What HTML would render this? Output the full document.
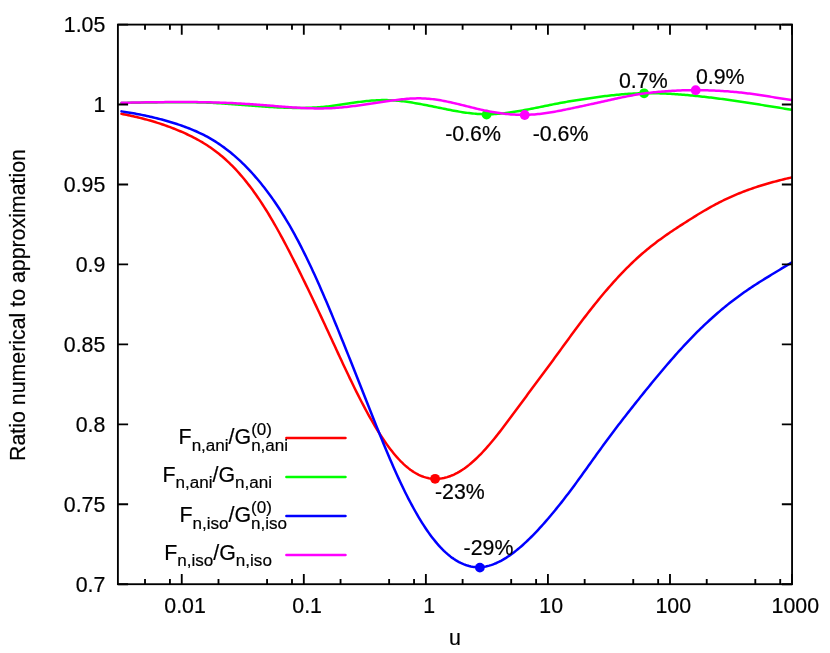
<!DOCTYPE html>
<html><head><meta charset="utf-8"><title>plot</title>
<style>html,body{margin:0;padding:0;background:#fff;}svg{display:block;will-change:transform;}text{font-family:"Liberation Sans",sans-serif;fill:#000;stroke:#000;stroke-width:0.20px;}</style></head><body>
<svg width="830" height="653" viewBox="0 0 830 653">
<rect x="0" y="0" width="830" height="653" fill="#ffffff"/>
<g fill="none" stroke="#ff0000" stroke-width="2.50" stroke-linejoin="round" stroke-linecap="round">
<path d="M121.50,113.83 L123.18,114.16 L124.86,114.50 L126.54,114.84 L128.22,115.19 L129.90,115.55 L131.58,115.92 L133.25,116.30 L134.93,116.68 L136.61,117.07 L138.29,117.47 L139.97,117.88 L141.65,118.31 L143.33,118.74 L145.01,119.18 L146.69,119.63 L148.37,120.09 L150.05,120.57 L151.73,121.05 L153.40,121.55 L155.08,122.06 L156.76,122.58 L158.44,123.11 L160.12,123.66 L161.80,124.21 L163.48,124.78 L165.16,125.37 L166.84,125.96 L168.52,126.58 L170.20,127.20 L171.88,127.84 L173.56,128.49 L175.23,129.15 L176.91,129.83 L178.59,130.53 L180.27,131.24 L181.95,131.97 L183.63,132.71 L185.31,133.47 L186.99,134.25 L188.67,135.05 L190.35,135.86 L192.03,136.70 L193.71,137.56 L195.38,138.44 L197.06,139.34 L198.74,140.27 L200.42,141.22 L202.10,142.20 L203.78,143.21 L205.46,144.25 L207.14,145.32 L208.82,146.43 L210.50,147.56 L212.18,148.73 L213.86,149.94 L215.54,151.19 L217.21,152.48 L218.89,153.81 L220.57,155.17 L222.25,156.58 L223.93,158.03 L225.61,159.53 L227.29,161.07 L228.97,162.65 L230.65,164.29 L232.33,165.96 L234.01,167.69 L235.69,169.46 L237.36,171.27 L239.04,173.14 L240.72,175.06 L242.40,177.02 L244.08,179.03 L245.76,181.09 L247.44,183.21 L249.12,185.37 L250.80,187.58 L252.48,189.84 L254.16,192.15 L255.84,194.51 L257.52,196.93 L259.19,199.39 L260.87,201.90 L262.55,204.47 L264.23,207.08 L265.91,209.75 L267.59,212.46 L269.27,215.23 L270.95,218.04 L272.63,220.90 L274.31,223.80 L275.99,226.75 L277.67,229.74 L279.34,232.77 L281.02,235.84 L282.70,238.94 L284.38,242.08 L286.06,245.26 L287.74,248.46 L289.42,251.70 L291.10,254.96 L292.78,258.25 L294.46,261.57 L296.14,264.91 L297.82,268.27 L299.49,271.65 L301.17,275.05 L302.85,278.47 L304.53,281.91 L306.21,285.36 L307.89,288.83 L309.57,292.31 L311.25,295.81 L312.93,299.32 L314.61,302.85 L316.29,306.39 L317.97,309.95 L319.65,313.52 L321.32,317.10 L323.00,320.69 L324.68,324.30 L326.36,327.92 L328.04,331.54 L329.72,335.18 L331.40,338.82 L333.08,342.45 L334.76,346.09 L336.44,349.73 L338.12,353.35 L339.80,356.97 L341.47,360.58 L343.15,364.17 L344.83,367.74 L346.51,371.30 L348.19,374.83 L349.87,378.34 L351.55,381.82 L353.23,385.27 L354.91,388.69 L356.59,392.07 L358.27,395.41 L359.95,398.71 L361.63,401.97 L363.30,405.19 L364.98,408.35 L366.66,411.47 L368.34,414.53 L370.02,417.54 L371.70,420.50 L373.38,423.40 L375.06,426.24 L376.74,429.02 L378.42,431.74 L380.10,434.40 L381.78,436.99 L383.45,439.51 L385.13,441.97 L386.81,444.36 L388.49,446.67 L390.17,448.92 L391.85,451.08 L393.53,453.18 L395.21,455.19 L396.89,457.13 L398.57,458.98 L400.25,460.76 L401.93,462.45 L403.61,464.06 L405.28,465.59 L406.96,467.03 L408.64,468.38 L410.32,469.66 L412.00,470.85 L413.68,471.96 L415.36,472.98 L417.04,473.92 L418.72,474.77 L420.40,475.54 L422.08,476.23 L423.76,476.83 L425.43,477.35 L427.11,477.80 L428.79,478.16 L430.47,478.44 L432.15,478.65 L433.83,478.77 L435.51,478.82 L437.19,478.80 L438.87,478.70 L440.55,478.52 L442.23,478.27 L443.91,477.95 L445.59,477.56 L447.26,477.09 L448.94,476.55 L450.62,475.95 L452.30,475.27 L453.98,474.53 L455.66,473.71 L457.34,472.83 L459.02,471.89 L460.70,470.88 L462.38,469.80 L464.06,468.66 L465.74,467.46 L467.41,466.20 L469.09,464.88 L470.77,463.49 L472.45,462.05 L474.13,460.55 L475.81,459.00 L477.49,457.39 L479.17,455.73 L480.85,454.02 L482.53,452.26 L484.21,450.45 L485.89,448.60 L487.57,446.70 L489.24,444.77 L490.92,442.79 L492.60,440.77 L494.28,438.72 L495.96,436.64 L497.64,434.52 L499.32,432.38 L501.00,430.21 L502.68,428.02 L504.36,425.82 L506.04,423.59 L507.72,421.35 L509.39,419.10 L511.07,416.84 L512.75,414.57 L514.43,412.29 L516.11,410.02 L517.79,407.74 L519.47,405.46 L521.15,403.19 L522.83,400.92 L524.51,398.64 L526.19,396.38 L527.87,394.11 L529.55,391.85 L531.22,389.60 L532.90,387.35 L534.58,385.09 L536.26,382.84 L537.94,380.59 L539.62,378.34 L541.30,376.08 L542.98,373.82 L544.66,371.55 L546.34,369.28 L548.02,367.00 L549.70,364.72 L551.37,362.43 L553.05,360.14 L554.73,357.84 L556.41,355.54 L558.09,353.24 L559.77,350.93 L561.45,348.63 L563.13,346.32 L564.81,344.02 L566.49,341.71 L568.17,339.41 L569.85,337.12 L571.53,334.83 L573.20,332.55 L574.88,330.28 L576.56,328.01 L578.24,325.76 L579.92,323.52 L581.60,321.29 L583.28,319.07 L584.96,316.87 L586.64,314.69 L588.32,312.52 L590.00,310.36 L591.68,308.23 L593.35,306.11 L595.03,304.01 L596.71,301.92 L598.39,299.86 L600.07,297.82 L601.75,295.79 L603.43,293.79 L605.11,291.80 L606.79,289.84 L608.47,287.89 L610.15,285.97 L611.83,284.06 L613.51,282.18 L615.18,280.32 L616.86,278.49 L618.54,276.67 L620.22,274.88 L621.90,273.11 L623.58,271.36 L625.26,269.64 L626.94,267.94 L628.62,266.27 L630.30,264.62 L631.98,263.00 L633.66,261.40 L635.33,259.83 L637.01,258.29 L638.69,256.77 L640.37,255.27 L642.05,253.80 L643.73,252.36 L645.41,250.93 L647.09,249.54 L648.77,248.16 L650.45,246.81 L652.13,245.48 L653.81,244.17 L655.48,242.89 L657.16,241.62 L658.84,240.37 L660.52,239.14 L662.20,237.92 L663.88,236.73 L665.56,235.54 L667.24,234.38 L668.92,233.22 L670.60,232.08 L672.28,230.95 L673.96,229.82 L675.64,228.71 L677.31,227.61 L678.99,226.51 L680.67,225.42 L682.35,224.34 L684.03,223.26 L685.71,222.18 L687.39,221.12 L689.07,220.05 L690.75,218.99 L692.43,217.94 L694.11,216.89 L695.79,215.85 L697.46,214.81 L699.14,213.79 L700.82,212.78 L702.50,211.77 L704.18,210.78 L705.86,209.80 L707.54,208.83 L709.22,207.87 L710.90,206.93 L712.58,206.00 L714.26,205.09 L715.94,204.19 L717.62,203.31 L719.29,202.44 L720.97,201.59 L722.65,200.75 L724.33,199.93 L726.01,199.13 L727.69,198.34 L729.37,197.56 L731.05,196.80 L732.73,196.06 L734.41,195.33 L736.09,194.62 L737.77,193.92 L739.44,193.23 L741.12,192.56 L742.80,191.91 L744.48,191.26 L746.16,190.63 L747.84,190.02 L749.52,189.41 L751.20,188.82 L752.88,188.24 L754.56,187.67 L756.24,187.11 L757.92,186.56 L759.60,186.02 L761.27,185.49 L762.95,184.98 L764.63,184.47 L766.31,183.97 L767.99,183.48 L769.67,183.00 L771.35,182.53 L773.03,182.07 L774.71,181.62 L776.39,181.17 L778.07,180.73 L779.75,180.30 L781.42,179.88 L783.10,179.46 L784.78,179.05 L786.46,178.65 L788.14,178.25 L789.82,177.85 L791.50,177.46"/>
<path d="M286.40,438.05 H345.50"/>
</g>
<circle cx="435.10" cy="478.80" r="4.90" fill="#ff0000"/>
<g fill="none" stroke="#00ff00" stroke-width="2.50" stroke-linejoin="round" stroke-linecap="round">
<path d="M121.50,103.01 L123.18,102.97 L124.86,102.93 L126.54,102.90 L128.22,102.86 L129.90,102.83 L131.58,102.79 L133.25,102.76 L134.93,102.73 L136.61,102.70 L138.29,102.67 L139.97,102.64 L141.65,102.61 L143.33,102.59 L145.01,102.56 L146.69,102.53 L148.37,102.51 L150.05,102.48 L151.73,102.46 L153.40,102.43 L155.08,102.41 L156.76,102.39 L158.44,102.37 L160.12,102.34 L161.80,102.32 L163.48,102.30 L165.16,102.29 L166.84,102.27 L168.52,102.26 L170.20,102.24 L171.88,102.23 L173.56,102.22 L175.23,102.22 L176.91,102.21 L178.59,102.21 L180.27,102.21 L181.95,102.21 L183.63,102.22 L185.31,102.23 L186.99,102.24 L188.67,102.25 L190.35,102.27 L192.03,102.29 L193.71,102.32 L195.38,102.34 L197.06,102.38 L198.74,102.41 L200.42,102.45 L202.10,102.50 L203.78,102.55 L205.46,102.60 L207.14,102.66 L208.82,102.73 L210.50,102.80 L212.18,102.87 L213.86,102.96 L215.54,103.04 L217.21,103.14 L218.89,103.23 L220.57,103.34 L222.25,103.44 L223.93,103.55 L225.61,103.66 L227.29,103.78 L228.97,103.90 L230.65,104.02 L232.33,104.15 L234.01,104.28 L235.69,104.40 L237.36,104.53 L239.04,104.67 L240.72,104.80 L242.40,104.93 L244.08,105.06 L245.76,105.20 L247.44,105.33 L249.12,105.46 L250.80,105.59 L252.48,105.73 L254.16,105.86 L255.84,105.98 L257.52,106.11 L259.19,106.23 L260.87,106.36 L262.55,106.48 L264.23,106.59 L265.91,106.71 L267.59,106.82 L269.27,106.92 L270.95,107.03 L272.63,107.12 L274.31,107.22 L275.99,107.31 L277.67,107.39 L279.34,107.47 L281.02,107.55 L282.70,107.62 L284.38,107.68 L286.06,107.74 L287.74,107.79 L289.42,107.83 L291.10,107.87 L292.78,107.90 L294.46,107.92 L296.14,107.93 L297.82,107.94 L299.49,107.94 L301.17,107.93 L302.85,107.91 L304.53,107.88 L306.21,107.84 L307.89,107.79 L309.57,107.73 L311.25,107.67 L312.93,107.59 L314.61,107.50 L316.29,107.40 L317.97,107.29 L319.65,107.16 L321.32,107.03 L323.00,106.89 L324.68,106.73 L326.36,106.57 L328.04,106.39 L329.72,106.20 L331.40,106.00 L333.08,105.79 L334.76,105.57 L336.44,105.34 L338.12,105.10 L339.80,104.85 L341.47,104.60 L343.15,104.35 L344.83,104.09 L346.51,103.83 L348.19,103.58 L349.87,103.32 L351.55,103.07 L353.23,102.82 L354.91,102.57 L356.59,102.33 L358.27,102.10 L359.95,101.88 L361.63,101.67 L363.30,101.46 L364.98,101.27 L366.66,101.08 L368.34,100.91 L370.02,100.76 L371.70,100.62 L373.38,100.49 L375.06,100.38 L376.74,100.28 L378.42,100.20 L380.10,100.14 L381.78,100.10 L383.45,100.08 L385.13,100.08 L386.81,100.10 L388.49,100.14 L390.17,100.20 L391.85,100.29 L393.53,100.39 L395.21,100.51 L396.89,100.65 L398.57,100.81 L400.25,100.99 L401.93,101.18 L403.61,101.38 L405.28,101.60 L406.96,101.83 L408.64,102.08 L410.32,102.34 L412.00,102.60 L413.68,102.88 L415.36,103.17 L417.04,103.46 L418.72,103.76 L420.40,104.07 L422.08,104.38 L423.76,104.70 L425.43,105.02 L427.11,105.35 L428.79,105.68 L430.47,106.02 L432.15,106.35 L433.83,106.69 L435.51,107.03 L437.19,107.37 L438.87,107.71 L440.55,108.05 L442.23,108.39 L443.91,108.73 L445.59,109.07 L447.26,109.41 L448.94,109.74 L450.62,110.07 L452.30,110.40 L453.98,110.71 L455.66,111.02 L457.34,111.32 L459.02,111.61 L460.70,111.89 L462.38,112.16 L464.06,112.41 L465.74,112.65 L467.41,112.88 L469.09,113.09 L470.77,113.29 L472.45,113.47 L474.13,113.63 L475.81,113.78 L477.49,113.91 L479.17,114.02 L480.85,114.11 L482.53,114.17 L484.21,114.22 L485.89,114.25 L487.57,114.25 L489.24,114.23 L490.92,114.19 L492.60,114.13 L494.28,114.05 L495.96,113.95 L497.64,113.83 L499.32,113.70 L501.00,113.54 L502.68,113.38 L504.36,113.19 L506.04,112.99 L507.72,112.78 L509.39,112.56 L511.07,112.32 L512.75,112.07 L514.43,111.81 L516.11,111.54 L517.79,111.26 L519.47,110.98 L521.15,110.68 L522.83,110.38 L524.51,110.08 L526.19,109.77 L527.87,109.45 L529.55,109.13 L531.22,108.80 L532.90,108.47 L534.58,108.14 L536.26,107.81 L537.94,107.47 L539.62,107.13 L541.30,106.79 L542.98,106.44 L544.66,106.10 L546.34,105.76 L548.02,105.41 L549.70,105.07 L551.37,104.73 L553.05,104.39 L554.73,104.06 L556.41,103.73 L558.09,103.40 L559.77,103.08 L561.45,102.76 L563.13,102.46 L564.81,102.15 L566.49,101.86 L568.17,101.57 L569.85,101.29 L571.53,101.01 L573.20,100.74 L574.88,100.47 L576.56,100.20 L578.24,99.94 L579.92,99.68 L581.60,99.42 L583.28,99.16 L584.96,98.91 L586.64,98.65 L588.32,98.40 L590.00,98.16 L591.68,97.91 L593.35,97.67 L595.03,97.44 L596.71,97.21 L598.39,96.98 L600.07,96.75 L601.75,96.53 L603.43,96.32 L605.11,96.11 L606.79,95.91 L608.47,95.71 L610.15,95.51 L611.83,95.33 L613.51,95.15 L615.18,94.97 L616.86,94.81 L618.54,94.65 L620.22,94.50 L621.90,94.35 L623.58,94.22 L625.26,94.09 L626.94,93.97 L628.62,93.86 L630.30,93.76 L631.98,93.66 L633.66,93.58 L635.33,93.50 L637.01,93.43 L638.69,93.37 L640.37,93.32 L642.05,93.27 L643.73,93.24 L645.41,93.21 L647.09,93.20 L648.77,93.19 L650.45,93.19 L652.13,93.20 L653.81,93.22 L655.48,93.25 L657.16,93.28 L658.84,93.32 L660.52,93.38 L662.20,93.43 L663.88,93.50 L665.56,93.57 L667.24,93.66 L668.92,93.74 L670.60,93.84 L672.28,93.94 L673.96,94.05 L675.64,94.16 L677.31,94.28 L678.99,94.41 L680.67,94.54 L682.35,94.68 L684.03,94.82 L685.71,94.96 L687.39,95.11 L689.07,95.26 L690.75,95.42 L692.43,95.59 L694.11,95.75 L695.79,95.92 L697.46,96.10 L699.14,96.27 L700.82,96.46 L702.50,96.64 L704.18,96.83 L705.86,97.02 L707.54,97.21 L709.22,97.41 L710.90,97.61 L712.58,97.82 L714.26,98.02 L715.94,98.23 L717.62,98.45 L719.29,98.66 L720.97,98.88 L722.65,99.10 L724.33,99.32 L726.01,99.55 L727.69,99.78 L729.37,100.01 L731.05,100.25 L732.73,100.49 L734.41,100.72 L736.09,100.97 L737.77,101.21 L739.44,101.46 L741.12,101.71 L742.80,101.96 L744.48,102.22 L746.16,102.47 L747.84,102.73 L749.52,102.99 L751.20,103.26 L752.88,103.52 L754.56,103.79 L756.24,104.05 L757.92,104.32 L759.60,104.59 L761.27,104.86 L762.95,105.13 L764.63,105.41 L766.31,105.68 L767.99,105.95 L769.67,106.22 L771.35,106.49 L773.03,106.76 L774.71,107.03 L776.39,107.30 L778.07,107.57 L779.75,107.84 L781.42,108.11 L783.10,108.38 L784.78,108.65 L786.46,108.91 L788.14,109.18 L789.82,109.45 L791.50,109.71"/>
<path d="M286.40,477.05 H345.50"/>
</g>
<circle cx="486.60" cy="114.60" r="4.90" fill="#00ff00"/>
<circle cx="644.10" cy="93.30" r="4.90" fill="#00ff00"/>
<g fill="none" stroke="#0000ff" stroke-width="2.50" stroke-linejoin="round" stroke-linecap="round">
<path d="M121.50,111.37 L123.18,111.63 L124.86,111.89 L126.54,112.16 L128.22,112.44 L129.90,112.72 L131.58,113.01 L133.25,113.30 L134.93,113.60 L136.61,113.91 L138.29,114.23 L139.97,114.55 L141.65,114.89 L143.33,115.23 L145.01,115.58 L146.69,115.93 L148.37,116.30 L150.05,116.67 L151.73,117.06 L153.40,117.45 L155.08,117.85 L156.76,118.27 L158.44,118.69 L160.12,119.12 L161.80,119.56 L163.48,120.02 L165.16,120.48 L166.84,120.95 L168.52,121.44 L170.20,121.94 L171.88,122.44 L173.56,122.96 L175.23,123.50 L176.91,124.04 L178.59,124.60 L180.27,125.17 L181.95,125.76 L183.63,126.36 L185.31,126.97 L186.99,127.60 L188.67,128.25 L190.35,128.91 L192.03,129.60 L193.71,130.30 L195.38,131.02 L197.06,131.76 L198.74,132.52 L200.42,133.31 L202.10,134.12 L203.78,134.96 L205.46,135.83 L207.14,136.72 L208.82,137.64 L210.50,138.60 L212.18,139.58 L213.86,140.60 L215.54,141.64 L217.21,142.72 L218.89,143.84 L220.57,144.98 L222.25,146.16 L223.93,147.38 L225.61,148.63 L227.29,149.91 L228.97,151.23 L230.65,152.58 L232.33,153.97 L234.01,155.39 L235.69,156.85 L237.36,158.35 L239.04,159.88 L240.72,161.45 L242.40,163.05 L244.08,164.70 L245.76,166.38 L247.44,168.10 L249.12,169.86 L250.80,171.66 L252.48,173.50 L254.16,175.38 L255.84,177.31 L257.52,179.27 L259.19,181.27 L260.87,183.32 L262.55,185.41 L264.23,187.54 L265.91,189.72 L267.59,191.94 L269.27,194.21 L270.95,196.52 L272.63,198.88 L274.31,201.29 L275.99,203.75 L277.67,206.25 L279.34,208.80 L281.02,211.41 L282.70,214.06 L284.38,216.78 L286.06,219.54 L287.74,222.36 L289.42,225.23 L291.10,228.16 L292.78,231.15 L294.46,234.19 L296.14,237.29 L297.82,240.44 L299.49,243.65 L301.17,246.91 L302.85,250.22 L304.53,253.58 L306.21,257.00 L307.89,260.46 L309.57,263.98 L311.25,267.54 L312.93,271.16 L314.61,274.82 L316.29,278.52 L317.97,282.27 L319.65,286.06 L321.32,289.89 L323.00,293.76 L324.68,297.66 L326.36,301.59 L328.04,305.56 L329.72,309.55 L331.40,313.57 L333.08,317.62 L334.76,321.69 L336.44,325.79 L338.12,329.90 L339.80,334.03 L341.47,338.17 L343.15,342.33 L344.83,346.50 L346.51,350.68 L348.19,354.88 L349.87,359.08 L351.55,363.29 L353.23,367.52 L354.91,371.74 L356.59,375.98 L358.27,380.22 L359.95,384.46 L361.63,388.71 L363.30,392.96 L364.98,397.21 L366.66,401.46 L368.34,405.71 L370.02,409.95 L371.70,414.19 L373.38,418.43 L375.06,422.64 L376.74,426.85 L378.42,431.03 L380.10,435.19 L381.78,439.33 L383.45,443.43 L385.13,447.50 L386.81,451.52 L388.49,455.51 L390.17,459.45 L391.85,463.34 L393.53,467.17 L395.21,470.96 L396.89,474.69 L398.57,478.36 L400.25,481.97 L401.93,485.52 L403.61,489.01 L405.28,492.43 L406.96,495.78 L408.64,499.07 L410.32,502.28 L412.00,505.43 L413.68,508.51 L415.36,511.51 L417.04,514.44 L418.72,517.30 L420.40,520.09 L422.08,522.79 L423.76,525.42 L425.43,527.98 L427.11,530.45 L428.79,532.85 L430.47,535.17 L432.15,537.41 L433.83,539.56 L435.51,541.64 L437.19,543.64 L438.87,545.55 L440.55,547.38 L442.23,549.13 L443.91,550.80 L445.59,552.38 L447.26,553.88 L448.94,555.30 L450.62,556.63 L452.30,557.89 L453.98,559.06 L455.66,560.15 L457.34,561.16 L459.02,562.10 L460.70,562.95 L462.38,563.72 L464.06,564.42 L465.74,565.03 L467.41,565.57 L469.09,566.03 L470.77,566.42 L472.45,566.72 L474.13,566.95 L475.81,567.10 L477.49,567.18 L479.17,567.18 L480.85,567.11 L482.53,566.96 L484.21,566.73 L485.89,566.44 L487.57,566.07 L489.24,565.64 L490.92,565.13 L492.60,564.57 L494.28,563.93 L495.96,563.24 L497.64,562.48 L499.32,561.67 L501.00,560.80 L502.68,559.87 L504.36,558.89 L506.04,557.86 L507.72,556.77 L509.39,555.64 L511.07,554.46 L512.75,553.23 L514.43,551.96 L516.11,550.64 L517.79,549.28 L519.47,547.87 L521.15,546.43 L522.83,544.95 L524.51,543.43 L526.19,541.87 L527.87,540.28 L529.55,538.65 L531.22,536.99 L532.90,535.30 L534.58,533.57 L536.26,531.82 L537.94,530.03 L539.62,528.22 L541.30,526.37 L542.98,524.51 L544.66,522.61 L546.34,520.69 L548.02,518.74 L549.70,516.77 L551.37,514.78 L553.05,512.76 L554.73,510.72 L556.41,508.66 L558.09,506.58 L559.77,504.47 L561.45,502.35 L563.13,500.20 L564.81,498.04 L566.49,495.85 L568.17,493.65 L569.85,491.43 L571.53,489.19 L573.20,486.93 L574.88,484.66 L576.56,482.37 L578.24,480.07 L579.92,477.76 L581.60,475.43 L583.28,473.10 L584.96,470.76 L586.64,468.42 L588.32,466.08 L590.00,463.73 L591.68,461.38 L593.35,459.03 L595.03,456.69 L596.71,454.35 L598.39,452.02 L600.07,449.70 L601.75,447.38 L603.43,445.08 L605.11,442.79 L606.79,440.51 L608.47,438.24 L610.15,435.98 L611.83,433.74 L613.51,431.50 L615.18,429.28 L616.86,427.06 L618.54,424.86 L620.22,422.67 L621.90,420.49 L623.58,418.32 L625.26,416.16 L626.94,414.01 L628.62,411.87 L630.30,409.73 L631.98,407.61 L633.66,405.49 L635.33,403.38 L637.01,401.27 L638.69,399.17 L640.37,397.08 L642.05,394.99 L643.73,392.91 L645.41,390.83 L647.09,388.76 L648.77,386.69 L650.45,384.63 L652.13,382.58 L653.81,380.54 L655.48,378.50 L657.16,376.48 L658.84,374.46 L660.52,372.45 L662.20,370.46 L663.88,368.47 L665.56,366.49 L667.24,364.53 L668.92,362.58 L670.60,360.64 L672.28,358.72 L673.96,356.81 L675.64,354.91 L677.31,353.03 L678.99,351.16 L680.67,349.31 L682.35,347.48 L684.03,345.66 L685.71,343.86 L687.39,342.07 L689.07,340.30 L690.75,338.55 L692.43,336.82 L694.11,335.11 L695.79,333.41 L697.46,331.74 L699.14,330.08 L700.82,328.44 L702.50,326.82 L704.18,325.21 L705.86,323.63 L707.54,322.06 L709.22,320.51 L710.90,318.98 L712.58,317.47 L714.26,315.97 L715.94,314.49 L717.62,313.03 L719.29,311.59 L720.97,310.17 L722.65,308.76 L724.33,307.37 L726.01,306.00 L727.69,304.65 L729.37,303.31 L731.05,302.00 L732.73,300.70 L734.41,299.41 L736.09,298.15 L737.77,296.90 L739.44,295.67 L741.12,294.46 L742.80,293.26 L744.48,292.08 L746.16,290.91 L747.84,289.75 L749.52,288.61 L751.20,287.49 L752.88,286.38 L754.56,285.28 L756.24,284.19 L757.92,283.11 L759.60,282.05 L761.27,280.99 L762.95,279.94 L764.63,278.90 L766.31,277.87 L767.99,276.84 L769.67,275.81 L771.35,274.79 L773.03,273.77 L774.71,272.75 L776.39,271.73 L778.07,270.72 L779.75,269.70 L781.42,268.69 L783.10,267.67 L784.78,266.66 L786.46,265.65 L788.14,264.64 L789.82,263.63 L791.50,262.62"/>
<path d="M286.40,516.05 H345.50"/>
</g>
<circle cx="479.90" cy="567.60" r="4.90" fill="#0000ff"/>
<g fill="none" stroke="#ff00ff" stroke-width="2.50" stroke-linejoin="round" stroke-linecap="round">
<path d="M121.50,102.81 L123.18,102.77 L124.86,102.73 L126.54,102.69 L128.22,102.66 L129.90,102.63 L131.58,102.59 L133.25,102.56 L134.93,102.53 L136.61,102.50 L138.29,102.47 L139.97,102.45 L141.65,102.42 L143.33,102.39 L145.01,102.37 L146.69,102.34 L148.37,102.32 L150.05,102.29 L151.73,102.27 L153.40,102.25 L155.08,102.23 L156.76,102.20 L158.44,102.18 L160.12,102.16 L161.80,102.15 L163.48,102.13 L165.16,102.11 L166.84,102.10 L168.52,102.08 L170.20,102.07 L171.88,102.06 L173.56,102.05 L175.23,102.04 L176.91,102.03 L178.59,102.03 L180.27,102.03 L181.95,102.02 L183.63,102.02 L185.31,102.03 L186.99,102.03 L188.67,102.04 L190.35,102.05 L192.03,102.06 L193.71,102.07 L195.38,102.09 L197.06,102.11 L198.74,102.13 L200.42,102.15 L202.10,102.17 L203.78,102.20 L205.46,102.23 L207.14,102.27 L208.82,102.30 L210.50,102.34 L212.18,102.38 L213.86,102.43 L215.54,102.47 L217.21,102.52 L218.89,102.57 L220.57,102.63 L222.25,102.69 L223.93,102.75 L225.61,102.82 L227.29,102.89 L228.97,102.96 L230.65,103.03 L232.33,103.11 L234.01,103.20 L235.69,103.29 L237.36,103.38 L239.04,103.47 L240.72,103.57 L242.40,103.67 L244.08,103.78 L245.76,103.88 L247.44,103.99 L249.12,104.11 L250.80,104.22 L252.48,104.34 L254.16,104.46 L255.84,104.58 L257.52,104.70 L259.19,104.83 L260.87,104.95 L262.55,105.08 L264.23,105.21 L265.91,105.34 L267.59,105.47 L269.27,105.60 L270.95,105.73 L272.63,105.86 L274.31,106.00 L275.99,106.13 L277.67,106.26 L279.34,106.39 L281.02,106.52 L282.70,106.65 L284.38,106.78 L286.06,106.90 L287.74,107.03 L289.42,107.15 L291.10,107.27 L292.78,107.38 L294.46,107.49 L296.14,107.60 L297.82,107.70 L299.49,107.80 L301.17,107.89 L302.85,107.98 L304.53,108.06 L306.21,108.13 L307.89,108.20 L309.57,108.25 L311.25,108.31 L312.93,108.35 L314.61,108.38 L316.29,108.41 L317.97,108.42 L319.65,108.42 L321.32,108.42 L323.00,108.40 L324.68,108.37 L326.36,108.33 L328.04,108.28 L329.72,108.22 L331.40,108.14 L333.08,108.05 L334.76,107.94 L336.44,107.83 L338.12,107.70 L339.80,107.56 L341.47,107.41 L343.15,107.25 L344.83,107.08 L346.51,106.90 L348.19,106.71 L349.87,106.52 L351.55,106.31 L353.23,106.11 L354.91,105.89 L356.59,105.67 L358.27,105.45 L359.95,105.22 L361.63,104.99 L363.30,104.75 L364.98,104.51 L366.66,104.27 L368.34,104.02 L370.02,103.77 L371.70,103.52 L373.38,103.27 L375.06,103.02 L376.74,102.76 L378.42,102.51 L380.10,102.26 L381.78,102.01 L383.45,101.76 L385.13,101.51 L386.81,101.27 L388.49,101.03 L390.17,100.80 L391.85,100.57 L393.53,100.34 L395.21,100.12 L396.89,99.91 L398.57,99.71 L400.25,99.51 L401.93,99.33 L403.61,99.16 L405.28,99.00 L406.96,98.86 L408.64,98.73 L410.32,98.62 L412.00,98.52 L413.68,98.45 L415.36,98.39 L417.04,98.36 L418.72,98.35 L420.40,98.36 L422.08,98.39 L423.76,98.45 L425.43,98.53 L427.11,98.64 L428.79,98.78 L430.47,98.94 L432.15,99.12 L433.83,99.32 L435.51,99.55 L437.19,99.79 L438.87,100.05 L440.55,100.34 L442.23,100.63 L443.91,100.95 L445.59,101.28 L447.26,101.62 L448.94,101.98 L450.62,102.34 L452.30,102.72 L453.98,103.11 L455.66,103.50 L457.34,103.91 L459.02,104.31 L460.70,104.72 L462.38,105.14 L464.06,105.56 L465.74,105.98 L467.41,106.40 L469.09,106.82 L470.77,107.23 L472.45,107.65 L474.13,108.06 L475.81,108.46 L477.49,108.86 L479.17,109.24 L480.85,109.63 L482.53,110.00 L484.21,110.36 L485.89,110.70 L487.57,111.04 L489.24,111.37 L490.92,111.68 L492.60,111.98 L494.28,112.27 L495.96,112.55 L497.64,112.81 L499.32,113.06 L501.00,113.29 L502.68,113.51 L504.36,113.72 L506.04,113.90 L507.72,114.08 L509.39,114.24 L511.07,114.38 L512.75,114.50 L514.43,114.61 L516.11,114.69 L517.79,114.76 L519.47,114.81 L521.15,114.85 L522.83,114.86 L524.51,114.85 L526.19,114.82 L527.87,114.77 L529.55,114.71 L531.22,114.62 L532.90,114.51 L534.58,114.39 L536.26,114.25 L537.94,114.09 L539.62,113.91 L541.30,113.72 L542.98,113.51 L544.66,113.28 L546.34,113.04 L548.02,112.79 L549.70,112.53 L551.37,112.25 L553.05,111.96 L554.73,111.67 L556.41,111.36 L558.09,111.05 L559.77,110.72 L561.45,110.40 L563.13,110.07 L564.81,109.73 L566.49,109.39 L568.17,109.05 L569.85,108.70 L571.53,108.35 L573.20,108.00 L574.88,107.65 L576.56,107.29 L578.24,106.93 L579.92,106.58 L581.60,106.22 L583.28,105.86 L584.96,105.49 L586.64,105.13 L588.32,104.77 L590.00,104.40 L591.68,104.03 L593.35,103.66 L595.03,103.29 L596.71,102.92 L598.39,102.55 L600.07,102.18 L601.75,101.80 L603.43,101.42 L605.11,101.04 L606.79,100.67 L608.47,100.29 L610.15,99.91 L611.83,99.54 L613.51,99.17 L615.18,98.80 L616.86,98.44 L618.54,98.08 L620.22,97.72 L621.90,97.38 L623.58,97.03 L625.26,96.70 L626.94,96.37 L628.62,96.05 L630.30,95.74 L631.98,95.44 L633.66,95.14 L635.33,94.85 L637.01,94.57 L638.69,94.30 L640.37,94.04 L642.05,93.79 L643.73,93.55 L645.41,93.32 L647.09,93.10 L648.77,92.89 L650.45,92.69 L652.13,92.50 L653.81,92.32 L655.48,92.15 L657.16,91.98 L658.84,91.82 L660.52,91.67 L662.20,91.53 L663.88,91.40 L665.56,91.27 L667.24,91.15 L668.92,91.03 L670.60,90.93 L672.28,90.83 L673.96,90.74 L675.64,90.65 L677.31,90.57 L678.99,90.50 L680.67,90.43 L682.35,90.37 L684.03,90.32 L685.71,90.28 L687.39,90.24 L689.07,90.21 L690.75,90.18 L692.43,90.17 L694.11,90.16 L695.79,90.15 L697.46,90.16 L699.14,90.17 L700.82,90.19 L702.50,90.22 L704.18,90.25 L705.86,90.29 L707.54,90.34 L709.22,90.39 L710.90,90.45 L712.58,90.51 L714.26,90.59 L715.94,90.66 L717.62,90.74 L719.29,90.83 L720.97,90.92 L722.65,91.02 L724.33,91.13 L726.01,91.24 L727.69,91.36 L729.37,91.49 L731.05,91.63 L732.73,91.77 L734.41,91.92 L736.09,92.08 L737.77,92.24 L739.44,92.41 L741.12,92.59 L742.80,92.78 L744.48,92.98 L746.16,93.18 L747.84,93.39 L749.52,93.60 L751.20,93.82 L752.88,94.05 L754.56,94.29 L756.24,94.53 L757.92,94.77 L759.60,95.02 L761.27,95.28 L762.95,95.53 L764.63,95.79 L766.31,96.06 L767.99,96.32 L769.67,96.59 L771.35,96.86 L773.03,97.13 L774.71,97.40 L776.39,97.67 L778.07,97.94 L779.75,98.21 L781.42,98.48 L783.10,98.75 L784.78,99.02 L786.46,99.29 L788.14,99.56 L789.82,99.83 L791.50,100.10"/>
<path d="M286.40,555.05 H345.50"/>
</g>
<circle cx="524.70" cy="115.00" r="4.90" fill="#ff00ff"/>
<circle cx="695.70" cy="90.20" r="4.90" fill="#ff00ff"/>
<g fill="none" stroke="#000" stroke-width="1.85" stroke-linecap="butt">
<path d="M117.90,24.60 h10.20 M792.05,24.60 h-10.20 M117.90,104.54 h10.20 M792.05,104.54 h-10.20 M117.90,184.49 h10.20 M792.05,184.49 h-10.20 M117.90,264.43 h10.20 M792.05,264.43 h-10.20 M117.90,344.37 h10.20 M792.05,344.37 h-10.20 M117.90,424.31 h10.20 M792.05,424.31 h-10.20 M117.90,504.26 h10.20 M792.05,504.26 h-10.20 M117.90,584.20 h10.20 M792.05,584.20 h-10.20 M145.01,584.20 v-5.10 M145.01,24.60 v5.10 M169.92,584.20 v-5.10 M169.92,24.60 v5.10 M181.75,584.20 v-10.20 M181.75,24.60 v10.20 M218.49,584.20 v-5.10 M218.49,24.60 v5.10 M267.07,584.20 v-5.10 M267.07,24.60 v5.10 M291.98,584.20 v-5.10 M291.98,24.60 v5.10 M303.81,584.20 v-10.20 M303.81,24.60 v10.20 M340.55,584.20 v-5.10 M340.55,24.60 v5.10 M389.13,584.20 v-5.10 M389.13,24.60 v5.10 M414.04,584.20 v-5.10 M414.04,24.60 v5.10 M425.87,584.20 v-10.20 M425.87,24.60 v10.20 M462.61,584.20 v-5.10 M462.61,24.60 v5.10 M511.19,584.20 v-5.10 M511.19,24.60 v5.10 M536.10,584.20 v-5.10 M536.10,24.60 v5.10 M547.93,584.20 v-10.20 M547.93,24.60 v10.20 M584.67,584.20 v-5.10 M584.67,24.60 v5.10 M633.25,584.20 v-5.10 M633.25,24.60 v5.10 M658.16,584.20 v-5.10 M658.16,24.60 v5.10 M669.99,584.20 v-10.20 M669.99,24.60 v10.20 M706.73,584.20 v-5.10 M706.73,24.60 v5.10 M755.31,584.20 v-5.10 M755.31,24.60 v5.10 M780.22,584.20 v-5.10 M780.22,24.60 v5.10 M792.05,584.20 v-10.20 M792.05,24.60 v10.20"/>
<rect x="117.90" y="24.60" width="674.15" height="559.60" stroke-linejoin="miter"/>
</g>
<g font-size="21.33">
<text x="105.30" y="32.00" text-anchor="end">1.05</text>
<text x="105.30" y="111.94" text-anchor="end">1</text>
<text x="105.30" y="191.89" text-anchor="end">0.95</text>
<text x="105.30" y="271.83" text-anchor="end">0.9</text>
<text x="105.30" y="351.77" text-anchor="end">0.85</text>
<text x="105.30" y="431.71" text-anchor="end">0.8</text>
<text x="105.30" y="511.66" text-anchor="end">0.75</text>
<text x="105.30" y="591.60" text-anchor="end">0.7</text>
<text x="185.05" y="612.75" text-anchor="middle">0.01</text>
<text x="307.11" y="612.75" text-anchor="middle">0.1</text>
<text x="429.17" y="612.75" text-anchor="middle">1</text>
<text x="551.23" y="612.75" text-anchor="middle">10</text>
<text x="673.29" y="612.75" text-anchor="middle">100</text>
<text x="795.35" y="612.75" text-anchor="middle">1000</text>
<text x="454.90" y="644.90" text-anchor="middle">u</text>
<text transform="translate(24.80,305.00) rotate(-90)" text-anchor="middle">Ratio numerical to approximation</text>
<text x="435.00" y="498.80">-23%</text>
<text x="463.60" y="554.90">-29%</text>
<text x="445.20" y="140.70">-0.6%</text>
<text x="532.70" y="140.70">-0.6%</text>
<text x="619.00" y="87.50">0.7%</text>
<text x="695.90" y="84.40">0.9%</text>
<text x="178.60" y="444.40">F<tspan font-size="17.06" dy="6.30">n,ani</tspan><tspan dy="-6.30">/G</tspan></text>
<text x="251.15" y="435.00" font-size="17.06">(0)</text>
<text x="251.15" y="450.70" font-size="17.06">n,ani</text>
<text x="162.50" y="481.60">F<tspan font-size="17.06" dy="6.30">n,ani</tspan><tspan dy="-6.30">/G</tspan><tspan font-size="17.06" dy="6.30">n,ani</tspan></text>
<text x="179.50" y="522.40">F<tspan font-size="17.06" dy="6.30">n,iso</tspan><tspan dy="-6.30">/G</tspan></text>
<text x="251.10" y="513.00" font-size="17.06">(0)</text>
<text x="251.10" y="528.70" font-size="17.06">n,iso</text>
<text x="164.30" y="559.60">F<tspan font-size="17.06" dy="6.30">n,iso</tspan><tspan dy="-6.30">/G</tspan><tspan font-size="17.06" dy="6.30">n,iso</tspan></text>
</g>
</svg></body></html>
